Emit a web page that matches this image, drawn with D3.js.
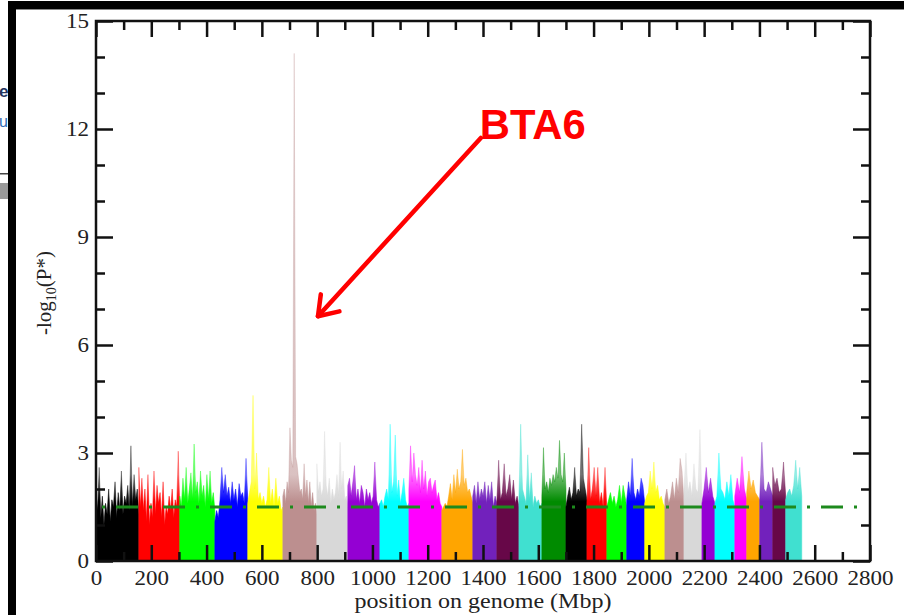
<!DOCTYPE html>
<html>
<head>
<meta charset="utf-8">
<script src="https://cdn.jsdelivr.net/npm/d3@7"></script>
<style>
  body { margin: 0; background: #fff; }
  svg { display: block; }
</style>
</head>
<body>
<svg id="chart" width="904" height="615"></svg>
<script>
// chromosome order, approximate lengths (Mbp)
var chromNames = ["BTA1","BTA2","BTA3","BTA4","BTA5","BTA6","BTA7","BTA8","BTA9","BTA10",
  "BTA11","BTA12","BTA13","BTA14","BTA15","BTA16","BTA17","BTA18","BTA19","BTA20",
  "BTA21","BTA22","BTA23","BTA24","BTA25","BTA26","BTA27","BTA28","BTA29"];
var chromLengths = [155, 148, 127, 119, 127, 123, 112, 116, 105, 119, 112, 87, 80, 83, 87,
  76, 72, 72, 65, 73, 69, 65, 47, 72, 43, 47, 47, 47, 58];

// grace-style palette, cycles after 15 colours
var palette = ["#000000","#ff0000","#00ff00","#0000ff","#ffff00","#bc8f8f","#d8d8d8","#9400d3",
  "#00ffff","#ff00ff","#ffa500","#7221bc","#670748","#40e0d0","#008b00"];

// -log10(P*) profile along each chromosome (peaks and dips)
var chromValues = [
  [1.9,1.4,2.6,1.2,1.8,1.0,1.6,1.3,2.0,1.1,1.7,1.5,2.2,1.2,1.9,1.4,2.5,1.3,1.8,1.6,2.1,1.4,3.2,1.5,2.4,1.7,2.0,1.3],
  [2.6,1.5,2.3,1.4,2.0,1.1,2.4,1.0,1.6,1.2,2.5,1.3,2.1,1.6,1.9,1.2,2.2,1.0,1.5,1.3,1.8,1.4,2.0,1.2,1.7,1.5,3.05,1.4],
  [1.8,1.5,2.3,1.7,2.6,1.6,2.0,2.45,1.7,3.25,1.9,2.2,1.6,2.5,1.8,2.1,1.5,2.4,1.7,2.5,1.6,1.9,1.4],
  [1.1,1.4,1.2,1.7,2.6,1.9,2.4,1.8,2.05,1.6,2.2,1.7,2.0,1.5,2.15,1.8,1.9,1.6,2.85,1.7],
  [1.6,1.9,2.2,4.6,2.0,3.0,1.7,1.9,1.6,1.8,1.5,1.7,2.6,1.6,2.0,1.5,2.3,1.6,1.8,1.4,1.5],
  [1.8,2.0,1.6,2.2,1.9,3.7,2.8,2.6,14.1,2.9,2.7,2.3,1.9,2.0,1.7,2.7,1.8,2.25,1.6,2.2,1.5,1.9,1.4,1.6,1.3],
  [2.7,1.9,2.2,1.8,2.0,3.6,2.1,1.8,2.3,1.6,2.0,1.7,1.9,2.4,1.8,3.3,2.0,2.5,1.7,1.8,1.5],
  [2.1,2.3,1.8,2.2,2.65,1.7,2.0,1.6,2.1,1.9,1.5,2.0,1.7,1.9,1.6,1.8,2.75,1.7,1.5,1.6],
  [1.6,1.7,1.5,1.8,2.0,1.7,3.8,1.9,2.2,3.5,1.8,2.25,1.6,1.9,2.3,1.7,1.5,1.6],
  [2.0,3.2,2.2,3.0,2.4,2.1,2.6,1.9,2.8,2.0,2.5,1.8,2.2,2.3,1.9,2.1,2.25,1.7,1.9,1.6,1.5],
  [1.4,1.5,1.6,1.5,1.8,2.15,1.7,2.4,1.9,2.55,2.0,2.2,3.1,2.1,2.3,1.9,2.0,1.8,1.6],
  [1.8,2.1,1.6,2.2,1.7,2.0,1.8,2.2,1.6,2.1,1.7,2.2,1.5,1.8,1.6],
  [1.6,2.8,1.7,1.9,2.7,1.8,2.0,2.4,1.7,2.25,1.6,1.8,1.5],
  [1.7,3.8,2.0,1.8,1.6,2.95,1.7,2.45,1.5,1.8,1.6,1.7,1.5,1.6],
  [1.8,3.15,2.0,2.2,1.9,2.3,2.1,2.4,2.2,2.6,2.3,3.35,2.4,2.2,3.0,2.0],
  [1.5,1.8,2.05,1.7,1.9,2.6,1.8,2.0,1.9,3.8,2.3,2.0,1.7],
  [1.6,3.15,1.7,2.0,2.6,1.8,2.6,1.6,1.9,1.5,2.6,1.4],
  [1.5,1.7,1.9,1.6,1.8,1.5,1.7,2.1,1.6,2.1,1.8,1.5],
  [1.7,2.2,1.8,2.85,1.9,1.7,2.0,1.8,2.3,2.1,1.6],
  [1.6,1.8,1.9,2.5,2.0,2.75,1.9,2.1,1.7,1.8,1.6,1.5],
  [1.7,2.0,1.6,1.8,2.2,1.7,2.3,1.9,2.85,2.5,1.6],
  [2.0,3.0,1.9,2.2,1.8,2.7,2.0,1.9,3.65,1.7],
  [1.6,2.0,2.6,1.9,2.3,1.8,1.6],
  [1.6,1.8,3.0,2.0,1.9,1.7,2.2,1.8,2.4,1.7,1.5],
  [1.8,2.3,1.9,2.9,2.0,1.7],
  [1.9,2.5,2.0,2.25,1.9,1.8,1.7],
  [1.7,3.3,2.0,1.9,2.2,2.0,1.8],
  [2.6,2.1,2.3,1.9,2.0,2.75,1.8],
  [1.7,1.9,2.0,1.8,2.1,2.8,2.0,2.6,1.8]
];

var threshold = 1.5;
var thresholdEnd = 2768;
var xMajorTicks = d3.range(0, 2801, 200);
var xMinorTicks = d3.range(100, 2800, 200);
var yMajorTicks = [0, 3, 6, 9, 12, 15];
var yMinorTicks = [1, 2, 4, 5, 7, 8, 10, 11, 13, 14];

var serif = "'Liberation Serif', 'Times New Roman', serif";
var svg = d3.select("#chart");

var x = d3.scaleLinear().domain([0, 2800]).range([96, 870]);
var y = d3.scaleLinear().domain([0, 15]).range([561, 21]);

/* one vertical gradient per colour: solid body, paler spikes above */
var defs = svg.append("defs");
palette.forEach(function(c, i) {
  var g = defs.append("linearGradient")
    .attr("id", "grad" + i)
    .attr("gradientUnits", "userSpaceOnUse")
    .attr("x1", 0).attr("x2", 0)
    .attr("y1", y(0)).attr("y2", y(15));
  g.append("stop").attr("offset", 0).attr("stop-color", c).attr("stop-opacity", 1);
  g.append("stop").attr("offset", 1.65 / 15).attr("stop-color", c).attr("stop-opacity", 1);
  g.append("stop").attr("offset", 2.4 / 15).attr("stop-color", c).attr("stop-opacity", 0.55);
  g.append("stop").attr("offset", 1).attr("stop-color", c).attr("stop-opacity", 0.42);
});

//chromosome profiles
var area = d3.area()
  .x(function(d) { return x(d[0]); })
  .y0(y(0))
  .y1(function(d) { return y(d[1]); });

var start = 0;
var chromData = chromLengths.map(function(len, i) {
  var vals = chromValues[i];
  var pts = vals.map(function(v, j) { return [start + j * len / (vals.length - 1), v]; });
  start += len;
  return { name: chromNames[i], pts: pts, colorIndex: i % palette.length };
});

svg.append("g").selectAll("path")
  .data(chromData)
  .enter()
  .append("path")
    .attr("d", function(d) { return area(d.pts); })
    .attr("fill", function(d) { return "url(#grad" + d.colorIndex + ")"; })
    .attr("stroke", function(d) { return "url(#grad" + d.colorIndex + ")"; })
    .attr("stroke-width", 0.6);

// significance line
svg.append("line")
  .attr("x1", x(0)).attr("x2", x(thresholdEnd))
  .attr("y1", y(threshold)).attr("y2", y(threshold))
  .attr("stroke", "#1d8a1d")
  .attr("stroke-width", 3)
  .attr("stroke-dasharray", "22,11,3,11")
  .attr("stroke-dashoffset", 27);

/* axes: ticks point inward on all four sides */
function styleAxis(g) {
  g.select(".domain").remove();
  g.selectAll(".tick line").attr("stroke", "#111").attr("stroke-width", 2.5);
  g.selectAll(".tick text")
    .attr("font-family", serif)
    .attr("font-size", 20)
    .attr("fill", "#222")
    .attr("transform", "scale(1.15,1)");
}

svg.append("g").attr("transform", "translate(0," + y(0) + ")")
  .call(d3.axisBottom(x).tickValues(xMinorTicks).tickSize(-9).tickFormat(""))
  .call(styleAxis);
svg.append("g").attr("transform", "translate(0," + y(0) + ")")
  .call(d3.axisBottom(x).tickValues(xMajorTicks).tickSize(-16).tickPadding(10).tickFormat(d3.format("d")))
  .call(styleAxis);

svg.append("g").attr("transform", "translate(0," + y(15) + ")")
  .call(d3.axisTop(x).tickValues(xMinorTicks).tickSize(-9).tickFormat(""))
  .call(styleAxis);
svg.append("g").attr("transform", "translate(0," + y(15) + ")")
  .call(d3.axisTop(x).tickValues(xMajorTicks).tickSize(-16).tickFormat(""))
  .call(styleAxis);

svg.append("g").attr("transform", "translate(" + x(0) + ",0)")
  .call(d3.axisLeft(y).tickValues(yMinorTicks).tickSize(-9).tickFormat(""))
  .call(styleAxis);
svg.append("g").attr("transform", "translate(" + x(0) + ",0)")
  .call(d3.axisLeft(y).tickValues(yMajorTicks).tickSize(-17).tickPadding(6).tickFormat(d3.format("d")))
  .call(styleAxis);

svg.append("g").attr("transform", "translate(" + x(2800) + ",0)")
  .call(d3.axisRight(y).tickValues(yMinorTicks).tickSize(-9).tickFormat(""))
  .call(styleAxis);
svg.append("g").attr("transform", "translate(" + x(2800) + ",0)")
  .call(d3.axisRight(y).tickValues(yMajorTicks).tickSize(-17).tickFormat(""))
  .call(styleAxis);

svg.append("rect")
  .attr("x", x(0)).attr("y", y(15))
  .attr("width", x(2800) - x(0)).attr("height", y(0) - y(15))
  .attr("fill", "none").attr("stroke", "#111").attr("stroke-width", 2.5);

// axis titles
svg.append("text")
  .attr("x", (x(0) + x(2800)) / 2).attr("y", 608)
  .attr("text-anchor", "middle")
  .attr("font-family", serif).attr("font-size", 20).attr("fill", "#222")
  .attr("textLength", 257).attr("lengthAdjust", "spacingAndGlyphs")
  .text("position on genome (Mbp)");

var yTitle = svg.append("text")
  .attr("transform", "translate(51," + (y(7.5) + 2) + ") rotate(-90)")
  .attr("text-anchor", "middle")
  .attr("font-family", serif).attr("font-size", 21).attr("fill", "#222");
yTitle.append("tspan").text("-log");
yTitle.append("tspan").attr("font-size", 14).attr("dy", 5).text("10");
yTitle.append("tspan").attr("dy", -5).text("(P*)");

// BTA6 annotation
var red = "#ff0000";
var tip = [x(803), y(6.8)];
var tail = [x(1392), y(11.75)];
svg.append("line")
  .attr("x1", tail[0]).attr("y1", tail[1]).attr("x2", tip[0]).attr("y2", tip[1])
  .attr("stroke", red).attr("stroke-width", 4.5).attr("stroke-linecap", "round");
var ang = Math.atan2(tail[1] - tip[1], tail[0] - tip[0]);
var arm = 22, spread = 35 * Math.PI / 180;
svg.append("path")
  .attr("d", "M" + (tip[0] + arm * Math.cos(ang + spread)) + "," + (tip[1] + arm * Math.sin(ang + spread)) +
             "L" + tip[0] + "," + tip[1] +
             "L" + (tip[0] + arm * Math.cos(ang - spread)) + "," + (tip[1] + arm * Math.sin(ang - spread)))
  .attr("fill", "none").attr("stroke", red).attr("stroke-width", 4.5)
  .attr("stroke-linecap", "round").attr("stroke-linejoin", "round");
svg.append("text")
  .attr("x", tail[0] - 1).attr("y", tail[1] + 1)
  .attr("font-family", "'Liberation Sans', Arial, sans-serif")
  .attr("font-weight", "bold").attr("font-size", 42).attr("fill", red)
  .attr("textLength", 106).attr("lengthAdjust", "spacingAndGlyphs")
  .text("BTA6");

/* slide remains around the pasted figure */
svg.append("text").attr("x", -1).attr("y", 97)
  .attr("font-family", "'Liberation Sans', sans-serif").attr("font-weight", "bold")
  .attr("font-size", 17).attr("fill", "#24345e").text("et");
svg.append("text").attr("x", -1).attr("y", 127)
  .attr("font-family", "'Liberation Sans', sans-serif")
  .attr("font-size", 16).attr("fill", "#2f6db5").text("u");
svg.append("rect").attr("x", 0).attr("y", 173).attr("width", 10).attr("height", 1.5).attr("fill", "#444");
svg.append("rect").attr("x", 0).attr("y", 183).attr("width", 10).attr("height", 16).attr("fill", "#9a9a9a");
svg.append("rect").attr("x", 8).attr("y", 1).attr("width", 896).attr("height", 8).attr("fill", "#000");
svg.append("rect").attr("x", 8).attr("y", 9).attr("width", 896).attr("height", 1).attr("fill", "#888");
svg.append("rect").attr("x", 8).attr("y", 1).attr("width", 8).attr("height", 614).attr("fill", "#000");
</script>
</body>
</html>
